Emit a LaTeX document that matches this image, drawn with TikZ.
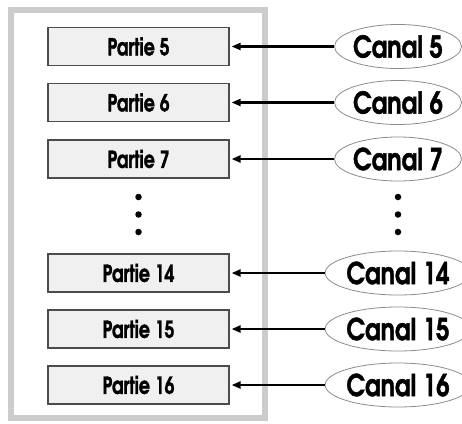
\documentclass[tikz,border=0pt]{standalone}
\usepackage{fontspec}
\setmainfont{TeX Gyre Adventor}[BoldFeatures={FakeBold=1.6}]
\usetikzlibrary{shapes.geometric,arrows.meta}
\newcommand{\tallA}[1]{\scalebox{0.97}[1.3]{#1}}
\newcommand{\tallB}[1]{\scalebox{0.95}[1.2]{#1}}
\tikzset{
  partbox/.style={draw=black!70,fill=black!6,line width=1.2pt,minimum width=181pt,minimum height=38pt,inner sep=0pt,font=\fontsize{18}{20}\selectfont\bfseries},
  canal/.style={ellipse,draw=black!45,fill=white,line width=0.8pt,minimum width=121pt,minimum height=44pt,inner sep=0pt,font=\fontsize{25}{28}\selectfont\bfseries},
  feed/.style={line width=2.2pt,-{Triangle[length=9pt,width=7pt]},shorten >=2pt},
  dotmark/.style={circle,fill=black,inner sep=0pt,minimum size=6.5pt}
}
\begin{document}
\begin{tikzpicture}[x=1pt,y=1pt]
\useasboundingbox[fill=white] (0,0) rectangle (462,-423);
\draw[black!20,line width=6pt,fill=white] (10.5,-10) rectangle (265,-418);
\foreach \n/\y in {5/46.5,6/102.5,7/159,14/273,15/329,16/385}{
  \node[partbox] (p\n) at (138.5,-\y) {\tallA{Partie \n}};
  \node[canal] (c\n) at (398,-\y) {\tallB{Canal \n}};
  \draw[feed] (c\n) -- (p\n);
}
\foreach \y [count=\i] in {197,214.5,232}{
  \node[dotmark] (ld\i) at (138.5,-\y) {};
  \node[dotmark] (rd\i) at (398,-\y) {};
}
\end{tikzpicture}
\end{document}
